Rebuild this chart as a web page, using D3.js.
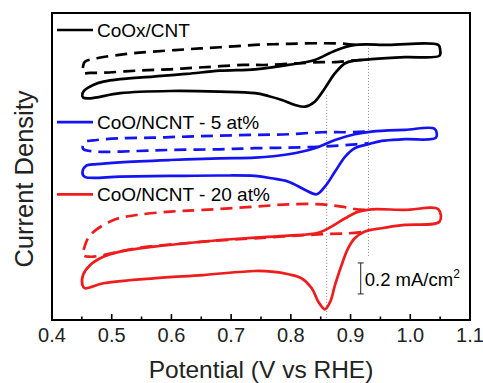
<!DOCTYPE html>
<html>
<head>
<meta charset="utf-8">
<script src="https://cdn.jsdelivr.net/npm/d3@7.9.0/dist/d3.min.js"></script>
<style>
  body { margin: 0; background: #fff; }
  svg { display: block; font-family: "Liberation Sans", Arial, sans-serif; }
</style>
</head>
<body>
<svg id="chart" width="483" height="383"></svg>
<script>
// potential (V vs RHE), current density (mA/cm2, offset per sample)
const cntSolid = [
  [0.455, 1.484], [0.469, 1.516], [0.486, 1.537], [0.514, 1.553], [0.570, 1.570],
  [0.626, 1.587], [0.681, 1.608], [0.740, 1.617], [0.796, 1.645], [0.840, 1.677],
  [0.874, 1.737], [0.907, 1.774], [0.963, 1.774], [1.047, 1.774], [1.050, 1.742],
  [1.049, 1.705], [0.991, 1.695], [0.935, 1.682], [0.907, 1.673], [0.891, 1.656],
  [0.874, 1.592], [0.857, 1.495], [0.840, 1.408], [0.824, 1.376], [0.807, 1.387],
  [0.785, 1.419], [0.762, 1.445], [0.740, 1.463], [0.681, 1.473], [0.598, 1.477],
  [0.514, 1.463], [0.464, 1.430], [0.452, 1.435], [0.451, 1.462]
];
const cntDashed = [
  [0.907, 1.774], [0.891, 1.781], [0.852, 1.785], [0.795, 1.781], [0.740, 1.774],
  [0.681, 1.759], [0.626, 1.746], [0.570, 1.731], [0.525, 1.716], [0.475, 1.688],
  [0.455, 1.665], [0.452, 1.634], [0.452, 1.594], [0.464, 1.594], [0.486, 1.595],
  [0.542, 1.608], [0.598, 1.617], [0.653, 1.630], [0.720, 1.645], [0.762, 1.645],
  [0.812, 1.656], [0.852, 1.663], [0.874, 1.663], [0.902, 1.673], [0.919, 1.677]
];
const n5Solid = [
  [0.457, 0.994], [0.475, 1.005], [0.514, 1.017], [0.598, 1.032], [0.681, 1.043],
  [0.740, 1.047], [0.796, 1.069], [0.840, 1.108], [0.874, 1.161], [0.907, 1.198],
  [0.935, 1.215], [0.991, 1.226], [1.041, 1.232], [1.043, 1.176], [0.991, 1.166],
  [0.952, 1.155], [0.930, 1.134], [0.907, 1.108], [0.891, 1.054], [0.874, 0.957],
  [0.857, 0.860], [0.843, 0.811], [0.824, 0.839], [0.796, 0.892], [0.768, 0.914],
  [0.740, 0.929], [0.681, 0.932], [0.598, 0.929], [0.514, 0.925], [0.455, 0.923],
  [0.451, 0.950]
];
const n5Dashed = [
  [0.924, 1.215], [0.891, 1.211], [0.852, 1.211], [0.796, 1.198], [0.740, 1.194],
  [0.681, 1.189], [0.626, 1.183], [0.570, 1.176], [0.514, 1.172], [0.475, 1.161],
  [0.455, 1.148], [0.452, 1.129], [0.452, 1.103], [0.475, 1.086], [0.542, 1.090],
  [0.598, 1.097], [0.681, 1.101], [0.740, 1.108], [0.796, 1.112], [0.852, 1.118],
  [0.896, 1.129], [0.930, 1.140]
];
const n20Solid = [
  [0.452, 0.290], [0.464, 0.355], [0.486, 0.408], [0.514, 0.441], [0.570, 0.473],
  [0.626, 0.495], [0.681, 0.516], [0.740, 0.531], [0.796, 0.544], [0.846, 0.563],
  [0.868, 0.602], [0.891, 0.656], [0.913, 0.699], [0.935, 0.714], [0.991, 0.710],
  [1.047, 0.714], [1.049, 0.634], [0.991, 0.613], [0.952, 0.592], [0.924, 0.570],
  [0.907, 0.527], [0.896, 0.463], [0.885, 0.355], [0.874, 0.226], [0.866, 0.118],
  [0.857, 0.069], [0.846, 0.118], [0.835, 0.205], [0.818, 0.269], [0.796, 0.295],
  [0.768, 0.312], [0.740, 0.316], [0.653, 0.290], [0.570, 0.269], [0.486, 0.237],
  [0.455, 0.205], [0.451, 0.225]
];
const n20Dashed = [
  [0.924, 0.710], [0.907, 0.716], [0.885, 0.731], [0.852, 0.746], [0.796, 0.746],
  [0.740, 0.731], [0.653, 0.710], [0.598, 0.699], [0.542, 0.677], [0.503, 0.645],
  [0.464, 0.548], [0.454, 0.465], [0.452, 0.419], [0.464, 0.408], [0.486, 0.419],
  [0.542, 0.463], [0.653, 0.505], [0.740, 0.527], [0.852, 0.553], [0.896, 0.559],
  [0.924, 0.570]
];

const series = [
  { label: "CoOx/CNT", color: "#000000", solid: cntSolid, dashed: cntDashed, legendY: 1.87 },
  { label: "CoO/NCNT - 5 at%", color: "#1414f0", solid: n5Solid, dashed: n5Dashed, legendY: 1.276 },
  { label: "CoO/NCNT - 20 at%", color: "#ee1c1c", solid: n20Solid, dashed: n20Dashed, legendY: 0.81 }
];

const xTicks = [0.4, 0.5, 0.6, 0.7, 0.8, 0.9, 1.0, 1.1];
const xMinorTicks = [0.45, 0.55, 0.65, 0.75, 0.85, 0.95, 1.05];
// dotted guide lines: [potential, from, to]
const guides = [[0.86, 1.452, 0.013], [0.93, 1.755, 0.406]];
const scaleBar = { x: 0.917, from: 0.168, size: 0.2, text: "0.2 mA/cm" };

const width = 483, height = 383;
const margin = { top: 13, right: 13, bottom: 63, left: 52 };

const svg = d3.select("#chart");

const x = d3.scaleLinear().domain([0.4, 1.1]).range([margin.left, width - margin.right]);
const y = d3.scaleLinear().domain([0, 1.98]).range([height - margin.bottom, margin.top]);

const line = d3.line()
  .x(d => x(d[0]))
  .y(d => y(d[1]))
  .curve(d3.curveCatmullRom.alpha(0.5));
const loop = d3.line()
  .x(d => x(d[0]))
  .y(d => y(d[1]))
  .curve(d3.curveCatmullRomClosed.alpha(0.5));

// guides
svg.append("g").selectAll("line")
  .data(guides)
  .join("line")
  .attr("x1", d => x(d[0])).attr("x2", d => x(d[0]))
  .attr("y1", d => y(d[1])).attr("y2", d => y(d[2]))
  .attr("stroke", "#888")
  .attr("stroke-width", 1)
  .attr("stroke-dasharray", "1,2");

// curves
series.forEach(s => {
  svg.append("path")
    .attr("d", line(s.dashed))
    .attr("fill", "none")
    .attr("stroke", s.color)
    .attr("stroke-width", 2.7)
    .attr("stroke-dasharray", "12,7");
  svg.append("path")
    .attr("d", loop(s.solid))
    .attr("fill", "none")
    .attr("stroke", s.color)
    .attr("stroke-width", 2.7);
});

// legend
const legend = svg.append("g");
series.forEach(s => {
  legend.append("line")
    .attr("x1", 57).attr("x2", 93)
    .attr("y1", y(s.legendY)).attr("y2", y(s.legendY))
    .attr("stroke", s.color)
    .attr("stroke-width", 2.6);
  legend.append("text")
    .attr("x", 97)
    .attr("y", y(s.legendY) + 6.8)
    .attr("font-size", 19)
    .attr("fill", "#000")
    .text(s.label);
});

// scale bar
const sb = svg.append("g").attr("stroke", "#222").attr("stroke-width", 1);
sb.append("line")
  .attr("x1", x(scaleBar.x)).attr("x2", x(scaleBar.x))
  .attr("y1", y(scaleBar.from)).attr("y2", y(scaleBar.from + scaleBar.size));
[scaleBar.from, scaleBar.from + scaleBar.size].forEach(v => {
  sb.append("line")
    .attr("x1", x(scaleBar.x) - 3).attr("x2", x(scaleBar.x) + 3)
    .attr("y1", y(v)).attr("y2", y(v));
});
const sbText = svg.append("text")
  .attr("x", x(scaleBar.x) + 4)
  .attr("y", y(scaleBar.from + scaleBar.size / 2) + 8)
  .attr("font-size", 18.5)
  .text(scaleBar.text);
sbText.append("tspan")
  .attr("dy", -8)
  .attr("font-size", 12)
  .text("2");

// x axis ticks (inward)
const xAxis = svg.append("g")
  .attr("transform", `translate(0,${height - margin.bottom})`);
xAxis.selectAll("line.major")
  .data(xTicks)
  .join("line")
  .attr("class", "major")
  .attr("x1", d => x(d)).attr("x2", d => x(d))
  .attr("y1", 0).attr("y2", -6)
  .attr("stroke", "#000").attr("stroke-width", 1.6);
xAxis.selectAll("line.minor")
  .data(xMinorTicks)
  .join("line")
  .attr("class", "minor")
  .attr("x1", d => x(d)).attr("x2", d => x(d))
  .attr("y1", 0).attr("y2", -3.5)
  .attr("stroke", "#000").attr("stroke-width", 1.6);
xAxis.selectAll("text")
  .data(xTicks)
  .join("text")
  .attr("x", d => x(d))
  .attr("y", 22)
  .attr("text-anchor", "middle")
  .attr("font-size", 20)
  .attr("fill", "#222")
  .text(d => d.toFixed(1));

// frame
svg.append("rect")
  .attr("x", margin.left).attr("y", margin.top)
  .attr("width", width - margin.left - margin.right)
  .attr("height", height - margin.top - margin.bottom)
  .attr("fill", "none")
  .attr("stroke", "#000")
  .attr("stroke-width", 2);

// axis titles
svg.append("text")
  .attr("x", (margin.left + width - margin.right) / 2)
  .attr("y", 378)
  .attr("text-anchor", "middle")
  .attr("font-size", 24.5)
  .attr("fill", "#222")
  .text("Potential (V vs RHE)");

svg.append("text")
  .attr("transform", "translate(33,179) rotate(-90)")
  .attr("text-anchor", "middle")
  .attr("font-size", 25.5)
  .attr("fill", "#222")
  .text("Current Density");
</script>
</body>
</html>
